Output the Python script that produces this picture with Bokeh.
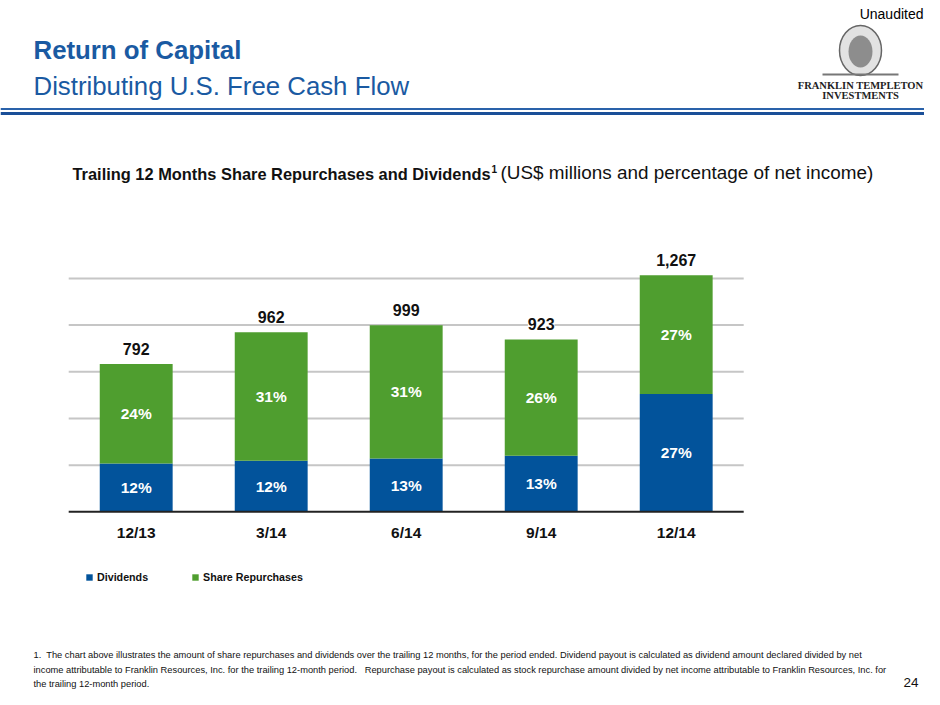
from bokeh.plotting import figure
from bokeh.models import Range1d, Label, LabelSet, ColumnDataSource, Span, Legend, LegendItem
from bokeh.core.properties import value
from bokeh.embed import file_html
from bokeh.resources import INLINE

# ---------------- data ----------------
categories = ["12/13", "3/14", "6/14", "9/14", "12/14"]
dividends = [259, 273, 285, 300, 631]
repurchases = [533, 689, 714, 623, 636]
dividend_pct = ["12%", "12%", "13%", "13%", "27%"]
repurchase_pct = ["24%", "31%", "31%", "26%", "27%"]
grid_values = [250, 500, 750, 1000, 1250]
series_names = ["Dividends", "Share Repurchases"]

# ---------------- style ----------------
BLUE = "#02539b"
GREEN = "#4f9e2f"
TITLE_BLUE = "#1a5aa2"
SANS = "Liberation Sans"
SERIF = "Liberation Serif"

W, H = 924, 689
X0, SX = 135.7, 135.0      # px of first category, px per category
Y0, SY = 511.3, 0.1867     # px (from top) of y=0, px per US$ million


def dx(wx):
    return (wx - X0) / SX


def dy(wy):
    return (Y0 - wy) / SY


p = figure(width=W, height=H, output_backend="svg", toolbar_location=None,
           x_range=Range1d(dx(0), dx(W)), y_range=Range1d(dy(H), dy(0)),
           x_axis_location=None, y_axis_location=None, min_border=0)
p.outline_line_color = None
p.xgrid.visible = False
p.ygrid.visible = False
p.background_fill_color = "white"

idx = list(range(len(categories)))
totals = [d + r for d, r in zip(dividends, repurchases)]
n = len(categories)

# gridlines
p.segment(x0=[-0.5] * len(grid_values), x1=[n - 1 + 0.5] * len(grid_values),
          y0=grid_values, y1=grid_values, line_color="#c6c6c6", line_width=2)

src = ColumnDataSource(dict(
    x=idx, cat=categories, Dividends=dividends, Repurchases=repurchases,
    total=totals, total_lbl=[f"{t:,}" for t in totals],
    dmid=[d / 2 for d in dividends],
    rmid=[d + r / 2 for d, r in zip(dividends, repurchases)],
    dpct=dividend_pct, rpct=repurchase_pct, zero=[0] * n,
))

rs = p.vbar_stack(["Dividends", "Repurchases"], x="x", width=0.54, source=src,
                  color=[BLUE, GREEN], line_color=None)

# baseline
p.segment(x0=[-0.5], x1=[n - 1 + 0.5], y0=[0], y1=[0], line_color="#222222", line_width=2)

# percentage labels
for col in ("dmid", "rmid"):
    p.text(x="x", y=col, text="dpct" if col == "dmid" else "rpct", source=src,
           text_color="white", text_font=value(SANS), text_font_style="bold",
           text_font_size="15.5px", text_align="center", text_baseline="middle")

# category labels
p.text(x="x", y="zero", text="cat", source=src, text_color="#111111", y_offset=21,
       text_font=value(SANS), text_font_style="bold", text_font_size="15.5px",
       text_align="center", text_baseline="alphabetic")

# totals with white background
p.add_layout(LabelSet(x="x", y="total", text="total_lbl", source=src, y_offset=9,
                      text_color="#111111", text_font=value(SANS), text_font_style="bold",
                      text_font_size="16px", text_align="center", text_baseline="bottom",
                      background_fill_color="white"))

# legend
legend = Legend(items=[LegendItem(label=series_names[0], renderers=[rs[0]]),
                       LegendItem(label=series_names[1], renderers=[rs[1]])],
                orientation="horizontal", location=(85, 106), glyph_width=8, glyph_height=8,
                label_standoff=4, spacing=43, padding=0, margin=0, label_height=12,
                label_text_font=SANS, label_text_font_style="bold",
                label_text_font_size="10.7px", label_text_color="#111111",
                border_line_color=None, background_fill_alpha=0)
p.add_layout(legend)


def lab(text, wx, wy, size, font=SANS, style="normal", color="#000000", align="left"):
    # wy is the intended baseline; compensate Bokeh's baseline placement
    px = float(size.replace("px", ""))
    p.add_layout(Label(x=dx(wx), y=dy(wy - 0.3 * px), text=text, text_font=font,
                       text_font_style=style, text_font_size=size, text_color=color,
                       text_align=align, text_baseline="alphabetic"))


# header
lab("Unaudited", 923, 18, "14px", align="right")
lab("Return of Capital", 33, 57, "25.8px", style="bold", color=TITLE_BLUE)
lab("Distributing U.S. Free Cash Flow", 33, 93, "25.8px", color=TITLE_BLUE)
p.add_layout(Span(location=dy(108.5), dimension="width", line_color="#2a62aa", line_width=2))
p.add_layout(Span(location=dy(113), dimension="width", line_color="#1a4f98", line_width=3))

# logo (simplified)
p.ellipse(x=[dx(860)], y=[dy(50)], width=42, height=50, width_units="screen",
          height_units="screen", fill_color="#a0a0a0", fill_alpha=0.3,
          line_color="#666666", line_width=1.5)
p.ellipse(x=[dx(860)], y=[dy(51)], width=24, height=32, width_units="screen",
          height_units="screen", fill_color="#555555", fill_alpha=0.6, line_color=None)
p.segment(x0=[dx(822)], x1=[dx(898)], y0=[dy(74)], y1=[dy(74)], line_color="#777777", line_width=2)
lab("FRANKLIN TEMPLETON", 860, 88, "10.5px", font=SERIF, style="bold", color="#222222", align="center")
lab("INVESTMENTS", 860, 98, "10.5px", font=SERIF, style="bold", color="#222222", align="center")

# chart title
lab("Trailing 12 Months Share Repurchases and Dividends", 72, 178, "16.4px", style="bold", color="#111111")
lab("1", 491, 171, "10px", style="bold", color="#111111")
lab("(US$ millions and percentage of net income)", 500, 178, "18.9px", color="#111111")

# footnote
foot = [
    "1.\u00a0 The chart above illustrates the amount of share repurchases and dividends over the trailing 12 months, for the period ended. Dividend payout is calculated as dividend amount declared divided by net",
    "income attributable to Franklin Resources, Inc. for the trailing 12-month period.\u00a0\u00a0 Repurchase payout is calculated as stock repurchase amount divided by net income attributable to Franklin Resources, Inc. for",
    "the trailing 12-month period.",
]
for i, t in enumerate(foot):
    lab(t, 33, 657 + 14.8 * i, "9.3px", color="#111111")
lab("24", 918, 686, "13.5px", color="#111111", align="right")

open("out.html", "w").write(file_html(p, INLINE))
